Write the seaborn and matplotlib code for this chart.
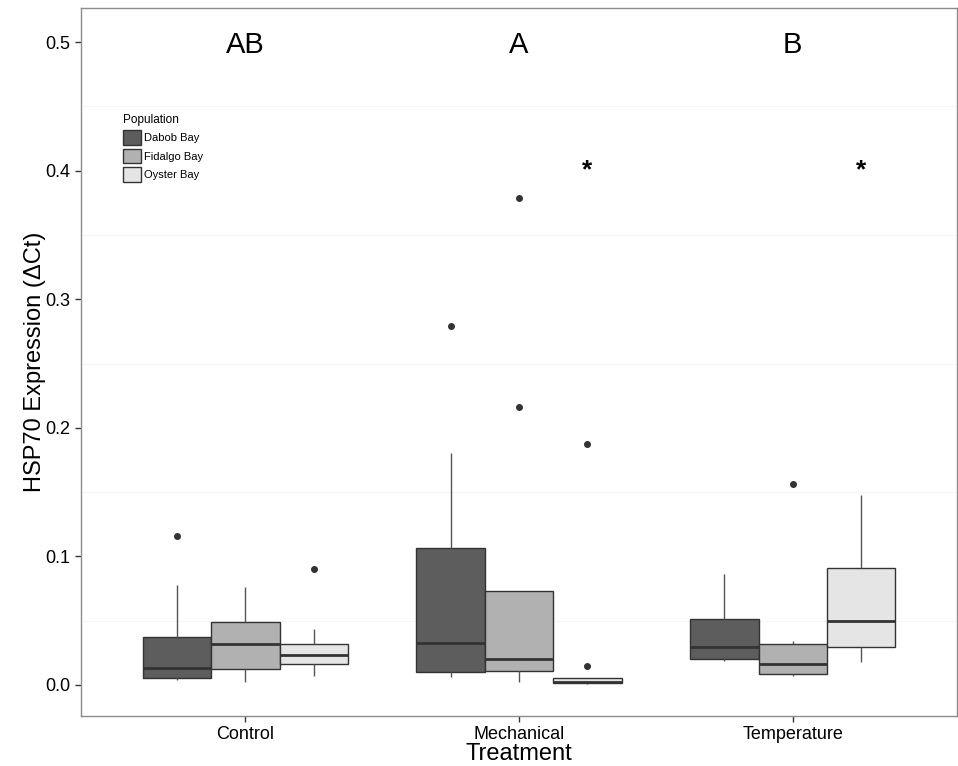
import numpy as np
import pandas as pd
import seaborn as sns
import matplotlib.pyplot as plt

# values, 9 obs per group
treatments = ['Control', 'Mechanical', 'Temperature']
populations = ['Dabob Bay', 'Fidalgo Bay', 'Oyster Bay']

control_dabob = [0.0039, 0.0045, 0.0052, 0.0090, 0.0130, 0.0250, 0.0376, 0.0780, 0.1159]
control_fidalgo = [0.0026, 0.0080, 0.0122, 0.0220, 0.0316, 0.0400, 0.0493, 0.0650, 0.0760]
control_oyster = [0.0070, 0.0120, 0.0163, 0.0200, 0.0233, 0.0280, 0.0319, 0.0433, 0.0900]
mech_dabob = [0.0065, 0.0080, 0.0104, 0.0200, 0.0329, 0.0700, 0.1063, 0.1802, 0.2792]
mech_fidalgo = [0.0026, 0.0060, 0.0111, 0.0150, 0.0205, 0.0400, 0.0733, 0.2159, 0.3787]
mech_oyster = [0.0008, 0.0012, 0.0015, 0.0018, 0.0021, 0.0040, 0.0057, 0.0148, 0.1874]
temp_dabob = [0.0187, 0.0195, 0.0205, 0.0250, 0.0298, 0.0400, 0.0511, 0.0700, 0.0861]
temp_fidalgo = [0.0070, 0.0075, 0.0083, 0.0120, 0.0163, 0.0250, 0.0316, 0.0345, 0.1563]
temp_oyster = [0.0181, 0.0240, 0.0295, 0.0400, 0.0495, 0.0700, 0.0910, 0.1200, 0.1480]

group_letters = ['AB', 'A', 'B']
star_treatments = ['Mechanical', 'Temperature']  # Oyster Bay differs

groups = {
    ('Control', 'Dabob Bay'): control_dabob,
    ('Control', 'Fidalgo Bay'): control_fidalgo,
    ('Control', 'Oyster Bay'): control_oyster,
    ('Mechanical', 'Dabob Bay'): mech_dabob,
    ('Mechanical', 'Fidalgo Bay'): mech_fidalgo,
    ('Mechanical', 'Oyster Bay'): mech_oyster,
    ('Temperature', 'Dabob Bay'): temp_dabob,
    ('Temperature', 'Fidalgo Bay'): temp_fidalgo,
    ('Temperature', 'Oyster Bay'): temp_oyster,
}
rows = []
for (t, p), vals in groups.items():
    for v in vals:
        rows.append({'Treatment': t, 'Population': p, 'dCt': v})
df = pd.DataFrame(rows)

sns.set_theme(style="white")
plt.rcParams['font.family'] = ['Liberation Sans', 'DejaVu Sans']
plt.rcParams['text.color'] = 'black'
plt.rcParams['axes.labelcolor'] = 'black'

fig = plt.figure(figsize=(9.58, 7.66), dpi=100)
ax = fig.add_axes([0.0846, 0.0653, 0.9144, 0.9243])

pal = ['#5d5d5d', '#b1b1b1', '#e5e5e5']
sns.boxplot(data=df, x='Treatment', y='dCt', hue='Population',
            order=treatments, hue_order=populations, palette=pal,
            width=0.75, gap=0, linecolor='#333333', linewidth=1.0,
            showcaps=False, fliersize=4,
            flierprops={'marker': 'o', 'markerfacecolor': '#333333',
                        'markeredgecolor': '#333333'},
            medianprops={'linewidth': 2.0},
            whiskerprops={'color': '#555555'},
            ax=ax)

ax.set_xlim(-0.6, 2.6)
ax.set_ylim(-0.0241, 0.5265)
ax.set_yticks([0.0, 0.1, 0.2, 0.3, 0.4, 0.5])
ax.set_yticklabels(['0.0', '0.1', '0.2', '0.3', '0.4', '0.5'])
ax.set_yticks(np.arange(0.05, 0.5, 0.1), minor=True)
ax.grid(False)
ax.grid(which='minor', axis='y', color='#f5f5f5', linewidth=0.8)
ax.set_axisbelow(True)

for s in ax.spines.values():
    s.set_color('#8c8c8c')
    s.set_linewidth(1.0)

ax.tick_params(axis='both', which='major', length=4, width=1, color='#333333',
               labelsize=13, labelcolor='black', bottom=True, left=True)
ax.tick_params(axis='y', which='minor', length=0)

ax.set_xlabel('Treatment', fontsize=17, labelpad=0)
ax.set_ylabel('HSP70 Expression (\u0394Ct)', fontsize=17, labelpad=0)

for i, lab in enumerate(group_letters):
    ax.text(i, 0.498, lab, ha='center', va='center', fontsize=21)
for t in star_treatments:
    ax.text(treatments.index(t) + 0.25, 0.400, '*', ha='center', va='center',
            fontsize=19, fontweight='bold')

sns.move_legend(ax, 'upper left', bbox_to_anchor=(0.048, 0.85),
                title='Population', fontsize=8, title_fontsize=8.5,
                frameon=False, borderaxespad=0, borderpad=0,
                handlelength=1.6, handleheight=1.65, handletextpad=0.3,
                labelspacing=0.36, alignment='left')

fig.savefig('out.png', dpi=100)
